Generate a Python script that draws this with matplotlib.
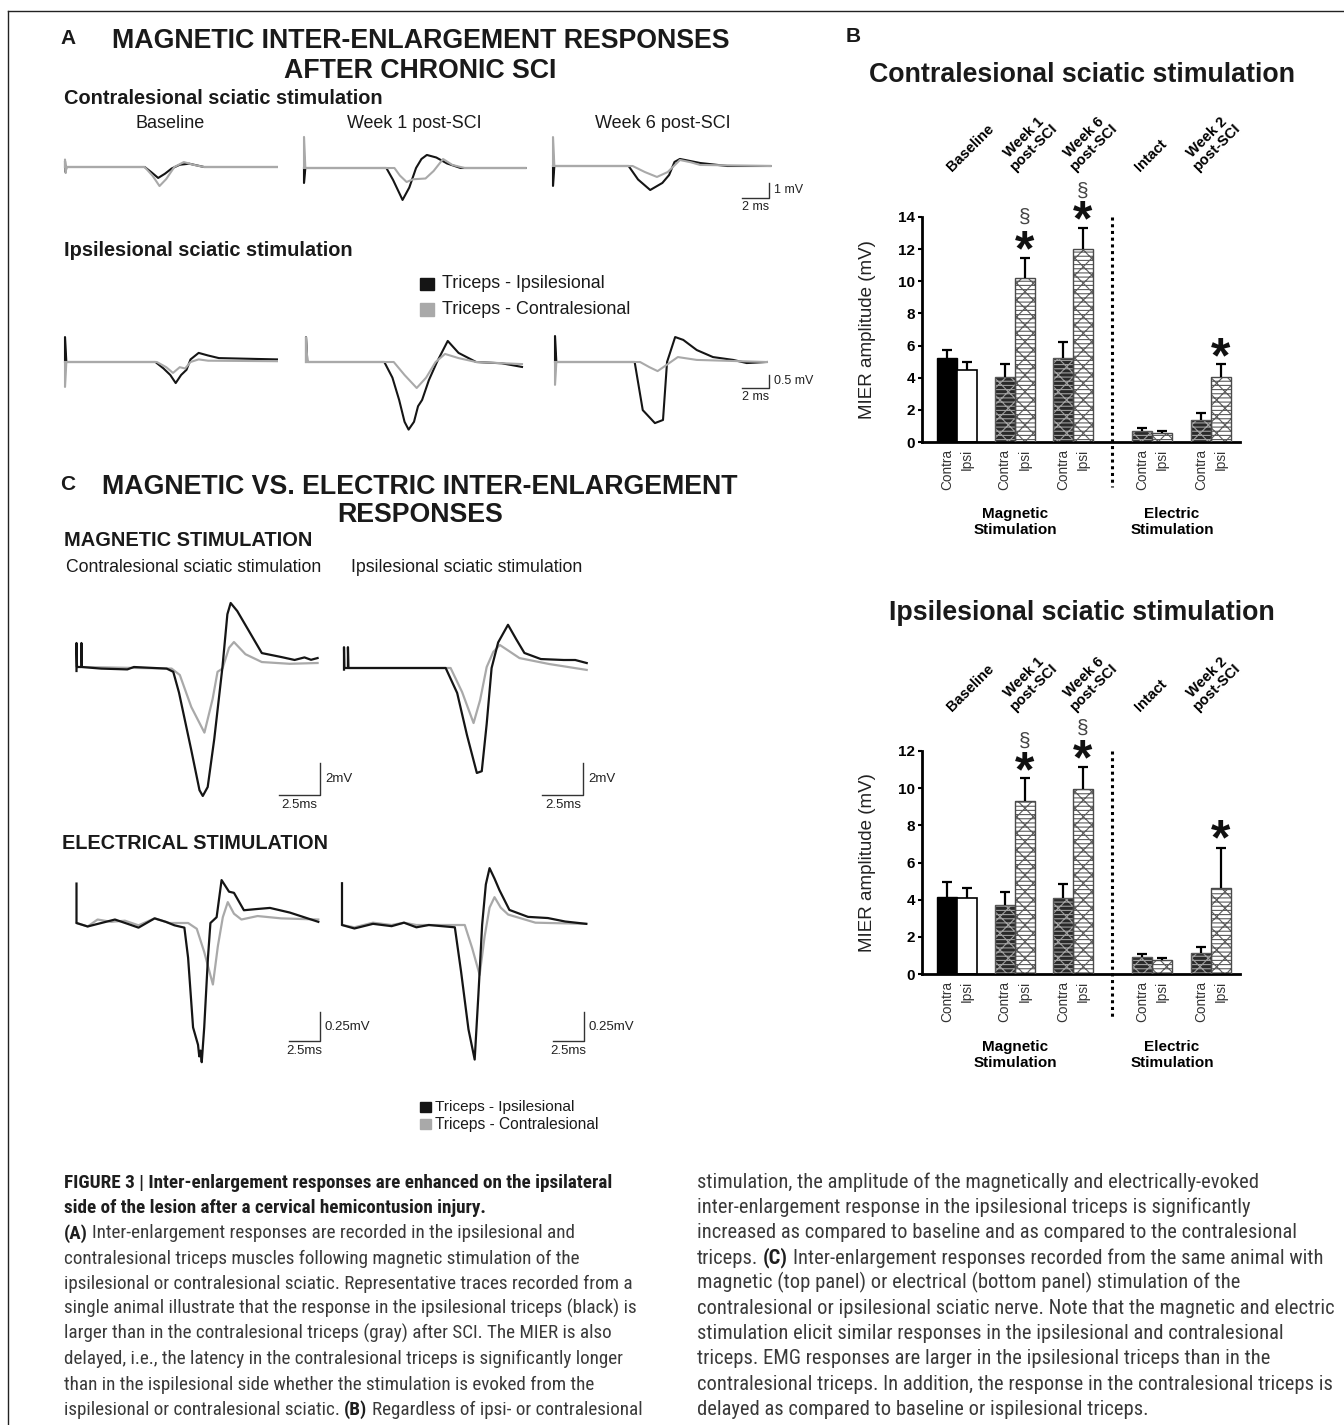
import numpy as np
import matplotlib
matplotlib.use("Agg")
import matplotlib.pyplot as plt
from matplotlib import font_manager as fm
from matplotlib import transforms as mtransforms
from matplotlib.lines import Line2D
from matplotlib.patches import Rectangle

W, H = 1344, 1425
plt.rcParams['font.family'] = ['Liberation Sans', 'DejaVu Sans']
plt.rcParams['hatch.linewidth'] = 0.8
SANS = 'Liberation Sans'

_names = {f.name for f in fm.fontManager.ttflist}
NARROW = None
for cand in ['Liberation Sans Narrow', 'Roboto Condensed', 'Open Sans Condensed',
             'Nimbus Sans Narrow', 'Arial Narrow', 'PT Sans Narrow', 'Archivo Narrow']:
    if cand in _names:
        NARROW = cand
        break
if NARROW is None:
    for f in fm.fontManager.ttflist:
        if 'Condensed' in f.name or 'Narrow' in f.name:
            NARROW = f.name
            break
if NARROW is None:
    NARROW = SANS

# ------------------------------------------------------------------ data (B)
groups = ['Baseline', 'Week 1\npost-SCI', 'Week 6\npost-SCI', 'Intact', 'Week 2\npost-SCI']
bar_labels = ['Contra', 'Ipsi']
# contralesional sciatic stimulation
mier1_contra = [5.2, 4.05, 5.25, 0.70, 1.35]
mier1_contra_err = [0.55, 0.80, 0.95, 0.15, 0.45]
mier1_ipsi = [4.5, 10.2, 12.0, 0.55, 4.05]
mier1_ipsi_err = [0.47, 1.25, 1.30, 0.11, 0.80]
star1_y = [np.nan, 12.4, 14.25, np.nan, 5.75]
sect1_y = [np.nan, 14.0, 15.6, np.nan, np.nan]
# ipsilesional sciatic stimulation
mier2_contra = [4.17, 3.69, 4.11, 0.91, 1.13]
mier2_contra_err = [0.77, 0.71, 0.72, 0.16, 0.32]
mier2_ipsi = [4.11, 9.3, 9.93, 0.73, 4.62]
mier2_ipsi_err = [0.51, 1.25, 1.22, 0.13, 2.18]
star2_y = [np.nan, 11.3, 11.95, np.nan, 7.65]
sect2_y = [np.nan, 12.5, 13.25, np.nan, np.nan]

# ------------------------------------------------------------------ data (A): (ms, mV)
A_con_base_black = [(0, 0), (0, 0.4), (0.05, -0.35), (0.1, 0), (5.9, 0), (6.4, -0.35), (6.9, -0.73), (7.4, -0.45),
                    (7.9, -0.1), (8.5, 0.15), (9.2, 0.22), (9.8, 0.1), (10.3, 0), (15.7, 0)]
A_con_base_gray = [(0, 0), (0, 0.5), (0.05, -0.4), (0.1, 0), (5.9, 0), (6.5, -0.6), (7.0, -1.27), (7.5, -0.8),
                   (8.1, 0), (8.8, 0.33), (9.5, 0.15), (10.3, 0), (15.7, 0)]
A_con_w1_black = [(0, 0), (0, -1.0), (0.1, 0), (6.1, 0), (6.6, -0.8), (7.3, -2.13), (7.8, -1.3), (8.3, 0),
                  (8.7, 0.6), (9.1, 0.87), (9.8, 0.7), (10.6, 0.3), (11.6, 0), (16.4, 0)]
A_con_w1_gray = [(0, 0), (0, 2.07), (0.1, 0), (6.7, 0), (7.1, -0.5), (7.6, -0.93), (8.1, -0.75), (9.0, -0.7),
                 (9.6, -0.2), (10.3, 0.6), (11.0, 0.2), (11.9, 0), (16.4, 0)]
A_con_w6_black = [(0, 0), (0, -1.33), (0.1, 0), (5.6, 0), (6.3, -0.9), (7.2, -1.6), (8.1, -1.13), (8.6, -0.6),
                  (9.0, 0.27), (9.4, 0.47), (10.9, 0.2), (12.9, 0), (16.1, 0)]
A_con_w6_gray = [(0, 0), (0, 1.93), (0.1, 0), (5.9, 0), (6.8, -0.4), (7.7, -0.73), (8.5, -0.4), (9.4, 0.4),
                 (10.2, 0.25), (10.9, 0.07), (16.1, 0)]
A_ips_base_black = [(0, 0), (0, 0.96), (0.1, 0), (6.7, 0), (7.3, -0.25), (7.8, -0.5), (8.2, -0.81), (8.6, -0.5),
                    (9.0, -0.3), (9.3, 0.1), (9.9, 0.35), (10.6, 0.25), (11.4, 0.15), (15.7, 0.1)]
A_ips_base_gray = [(0, 0), (0, -0.96), (0.1, 0), (6.8, 0), (7.5, -0.2), (8.0, -0.42), (8.5, -0.2), (8.9, -0.25),
                   (9.3, 0), (9.9, 0.1), (10.6, 0.05), (15.7, 0.03)]
A_ips_w1_black = [(0, 0), (0, 0.96), (0.1, 0), (5.8, 0), (6.4, -0.6), (6.9, -1.46), (7.3, -2.3), (7.6, -2.6),
                  (8.0, -2.3), (8.3, -1.7), (8.6, -1.46), (9.1, -0.7), (9.7, 0), (10.5, 0.81), (11.3, 0.35),
                  (12.6, 0), (14.5, -0.05), (16.0, -0.19)]
A_ips_w1_gray = [(0, 0), (0, 0.96), (0.1, 0), (6.5, 0), (7.3, -0.5), (8.2, -1.0), (8.9, -0.6), (9.6, 0),
                 (10.3, 0.31), (11.3, 0.15), (12.6, 0), (16.0, -0.08)]
A_ips_w6_black = [(0, 0), (0, 1.0), (0.1, 0), (5.9, 0), (6.5, -1.85), (7.4, -2.35), (8.0, -2.23), (8.3, 0),
                  (8.9, 0.96), (9.5, 0.85), (10.5, 0.46), (11.7, 0.19), (13.2, 0.08), (14.2, -0.04), (15.7, 0)]
A_ips_w6_gray = [(0, 0), (0, -0.88), (0.1, 0), (6.3, 0), (7.0, -0.2), (7.6, -0.35), (8.3, -0.1), (9.1, 0.19),
                 (10.5, 0.08), (15.7, 0)]

# ------------------------------------------------------------------ data (C): (ms, mV)
C_mag_con_black = [(0, -0.25), (0, 1.5), (0.03, 0), (0.3, 0), (0.3, 1.5), (0.33, 0), (1.5, -0.1), (3.1, -0.15),
                   (3.5, 0), (5.5, -0.1), (5.9, -0.3), (6.25, -1.6), (7.0, -5.2), (7.5, -7.7), (7.7, -8.06),
                   (8.0, -7.5), (8.4, -4.5), (8.9, 0), (9.2, 3.3), (9.4, 4.0), (9.8, 3.5), (10.6, 2.1),
                   (11.3, 0.87), (12.5, 0.62), (13.3, 0.44), (13.9, 0.6), (14.3, 0.45), (14.7, 0.56)]
C_mag_con_gray = [(0.3, 0), (5.8, -0.1), (6.3, -0.5), (7.0, -2.5), (7.8, -4.1), (8.3, -2.0), (8.6, -0.3),
                  (8.9, -0.1), (9.3, 1.2), (9.6, 1.56), (10.3, 0.8), (11.3, 0.31), (13.0, 0.2), (14.7, 0.25)]
C_mag_ips_black = [(0, -0.1), (0, 1.3), (0.02, 0), (0.24, 0), (0.24, 1.3), (0.27, 0), (6.2, 0), (6.9, -1.56),
                   (7.5, -4.2), (8.1, -6.56), (8.4, -6.45), (8.7, -3.5), (9.0, 0), (9.4, 1.6), (10.0, 2.7),
                   (10.5, 1.8), (11.0, 0.94), (12.0, 0.56), (13.4, 0.5), (14.1, 0.5), (14.8, 0.31)]
C_mag_ips_gray = [(0.3, 0), (6.5, 0), (7.2, -1.5), (7.9, -3.44), (8.3, -2.0), (8.7, 0.06), (9.1, 1.0),
                  (9.5, 1.44), (10.0, 1.1), (10.7, 0.62), (12.5, 0.25), (14.8, -0.12)]
C_el_con_black = [(0, 0.34), (0, 0), (0.9, -0.03), (2.0, 0.0), (3.1, 0.03), (4.2, -0.01), (5.0, -0.04),
                  (6.3, 0.04), (7.2, 0.01), (7.9, -0.02), (8.7, -0.04), (9.0, -0.3), (9.4, -0.9), (9.8, -1.05),
                  (9.9, -1.15), (10.0, -1.1), (10.1, -1.2), (10.3, -0.9), (10.6, -0.3), (10.8, 0.0),
                  (11.3, 0.05), (11.7, 0.37), (12.3, 0.27), (12.7, 0.26), (13.5, 0.11), (14.5, 0.12),
                  (15.6, 0.13), (17.2, 0.09), (19.5, 0.01)]
C_el_con_gray = [(0, 0), (0.9, -0.03), (1.7, 0.03), (2.8, 0.01), (3.9, 0.02), (5.0, -0.02), (6.3, 0.04),
                 (7.5, 0.0), (9.0, 0.0), (9.7, -0.05), (10.3, -0.25), (11.0, -0.53), (11.4, -0.2), (11.8, 0.05),
                 (12.2, 0.18), (12.7, 0.08), (13.3, 0.03), (14.6, 0.06), (16.5, 0.04), (19.5, 0.03)]
C_el_ips_black = [(0, 0.36), (0, 0), (1.0, -0.03), (2.5, 0.01), (4.0, -0.01), (5.0, 0.02), (6.0, -0.02),
                  (7.0, 0.0), (9.1, -0.02), (9.6, -0.4), (10.2, -0.9), (10.7, -1.16), (11.0, -0.6), (11.3, 0.0),
                  (11.6, 0.35), (11.9, 0.49), (12.3, 0.4), (12.7, 0.3), (13.5, 0.13), (15.0, 0.07),
                  (16.6, 0.06), (18.0, 0.03), (19.7, 0.01)]
C_el_ips_gray = [(0, 0), (1.0, -0.02), (2.5, 0.02), (4.0, 0.0), (5.0, 0.02), (6.0, 0.0), (9.9, 0.0),
                 (10.5, -0.2), (11.1, -0.43), (11.5, -0.1), (11.9, 0.15), (12.3, 0.24), (12.8, 0.15),
                 (13.4, 0.09), (15.6, 0.02), (19.7, 0.01)]

legend_labels = ['Triceps - Ipsilesional', 'Triceps - Contralesional']

caption_left = [
    [("FIGURE 3 | Inter-enlargement responses are enhanced on the ipsilateral", 'bold')],
    [("side of the lesion after a cervical hemicontusion injury.", 'bold')],
    [("(A)", 'bold'), ("Inter-enlargement responses are recorded in the ipsilesional and", 'normal')],
    [("contralesional triceps muscles following magnetic stimulation of the", 'normal')],
    [("ipsilesional or contralesional sciatic. Representative traces recorded from a", 'normal')],
    [("single animal illustrate that the response in the ipsilesional triceps (black) is", 'normal')],
    [("larger than in the contralesional triceps (gray) after SCI. The MIER is also", 'normal')],
    [("delayed, i.e., the latency in the contralesional triceps is significantly longer", 'normal')],
    [("than in the ispilesional side whether the stimulation is evoked from the", 'normal')],
    [("ispilesional or contralesional sciatic.", 'normal'), ("(B)", 'bold'),
     ("Regardless of ipsi- or contralesional", 'normal')],
]
caption_right = [
    [("stimulation, the amplitude of the magnetically and electrically-evoked", 'normal')],
    [("inter-enlargement response in the ipsilesional triceps is significantly", 'normal')],
    [("increased as compared to baseline and as compared to the contralesional", 'normal')],
    [("triceps.", 'normal'), ("(C)", 'bold'), ("Inter-enlargement responses recorded from the same animal with", 'normal')],
    [("magnetic (top panel) or electrical (bottom panel) stimulation of the", 'normal')],
    [("contralesional or ipsilesional sciatic nerve. Note that the magnetic and electric", 'normal')],
    [("stimulation elicit similar responses in the ipsilesional and contralesional", 'normal')],
    [("triceps. EMG responses are larger in the ipsilesional triceps than in the", 'normal')],
    [("contralesional triceps. In addition, the response in the contralesional triceps is", 'normal')],
    [("delayed as compared to baseline or ispilesional triceps.", 'normal')],
]

# ------------------------------------------------------------------ figure
fig = plt.figure(figsize=(W / 100, H / 100), dpi=100)
R = fig.canvas.get_renderer()
BLK = '#151515'
GRY = '#a9a9a9'


def T(x, y, s, size, family=SANS, weight='normal', ha='left', va='center', color='#1a1a1a', fit=None, **kw):
    t = fig.text(x / W, 1 - y / H, s, fontsize=size, family=family, weight=weight, ha=ha, va=va,
                 color=color, **kw)
    if fit:
        w = t.get_window_extent(R).width
        new = size * fit / w
        new = min(max(new, size * 0.6), size * 1.3)
        t.set_fontsize(new)
    return t


# frame
fig.add_artist(Line2D([8 / W, 1], [1 - 11 / H, 1 - 11 / H], transform=fig.transFigure, color='#222', lw=1.0))
fig.add_artist(Line2D([8 / W, 8 / W], [0, 1 - 11 / H], transform=fig.transFigure, color='#222', lw=1.0))

# ------------------------------------------------------------------ panel A / C texts
T(68, 38, 'A', 15, weight='bold', ha='center')
t1 = T(421, 41, 'MAGNETIC INTER-ENLARGEMENT RESPONSES', 18, weight='bold', ha='center', fit=618)
tsz = t1.get_fontsize()
T(420, 71, 'AFTER CHRONIC SCI', tsz, weight='bold', ha='center')
T(64, 98, 'Contralesional sciatic stimulation', 13, weight='bold', fit=318)
T(170, 124, 'Baseline', 11.5, ha='center', fit=69)
T(414, 124, 'Week 1 post-SCI', 11.5, ha='center', fit=135)
T(663, 124, 'Week 6 post-SCI', 11.5, ha='center', fit=136)
T(64, 251, 'Ipsilesional sciatic stimulation', 13, weight='bold', fit=288)

fig.add_artist(Rectangle((420 / W, 1 - 290 / H), 14 / W, 12 / H, transform=fig.transFigure, color=BLK))
fig.add_artist(Rectangle((420 / W, 1 - 316 / H), 14 / W, 13 / H, transform=fig.transFigure, color=GRY))
T(442, 284, legend_labels[0], 12, fit=162)
T(442, 309, legend_labels[1], 12, fit=188)

T(68, 485, 'C', 15, weight='bold', ha='center')
T(420, 487, 'MAGNETIC VS. ELECTRIC INTER-ENLARGEMENT', tsz, weight='bold', ha='center')
T(420, 515, 'RESPONSES', tsz, weight='bold', ha='center')
T(64, 540, 'MAGNETIC STIMULATION', 13, weight='bold', fit=247)
T(66, 567, 'Contralesional sciatic stimulation', 12, fit=257)
T(351, 567, 'Ipsilesional sciatic stimulation', 12, fit=232)
T(62, 843, 'ELECTRICAL STIMULATION', 13, weight='bold', fit=265)

fig.add_artist(Rectangle((420 / W, 1 - 1112 / H), 11 / W, 10 / H, transform=fig.transFigure, color=BLK))
fig.add_artist(Rectangle((420 / W, 1 - 1129 / H), 11 / W, 10 / H, transform=fig.transFigure, color=GRY))
T(435, 1107, legend_labels[0], 10.5, fit=141)
T(435, 1124, legend_labels[1], 10.5, fit=165)


# ------------------------------------------------------------------ traces
def trace_panel(x0, y0, pxms, pxmv, black, gray, lw, black_on_top, sbar=None):
    L, Rr, Tp, Bt = x0 - 30, x0 + 360, y0 - 160, y0 + 160
    ax = fig.add_axes([L / W, 1 - Bt / H, (Rr - L) / W, (Bt - Tp) / H])
    ax.set_xlim((L - x0) / pxms, (Rr - x0) / pxms)
    ax.set_ylim((y0 - Bt) / pxmv, (y0 - Tp) / pxmv)
    ax.axis('off')
    ax.patch.set_visible(False)
    bt, bv = zip(*black)
    gt, gv = zip(*gray)
    zb, zg = (3, 2) if black_on_top else (2, 3)
    ax.plot(bt, bv, color=BLK, lw=lw, zorder=zb, clip_on=False, solid_joinstyle='round')
    ax.plot(gt, gv, color=GRY, lw=lw, zorder=zg, clip_on=False, solid_joinstyle='round')
    if sbar:
        t, v, sx, sy, lx, ly, fs, dy = sbar
        ax.plot([t - sx, t, t], [v, v, v + sy], color='#333', lw=1.0, clip_on=False)
        ax.annotate(ly, xy=(t, v + sy / 2), xytext=(3.5, 0), textcoords='offset points', ha='left',
                    va='center', fontsize=fs, family=SANS, color='#222')
        ax.annotate(lx, xy=(t - sx / 2, v), xytext=(0, dy), textcoords='offset points', ha='center',
                    va='top', fontsize=fs, family=SANS, color='#222')
    return ax


trace_panel(65, 167, 13.5, 15, A_con_base_black, A_con_base_gray, 1.5, False)
trace_panel(304, 168, 13.5, 15, A_con_w1_black, A_con_w1_gray, 1.5, False)
trace_panel(553, 166, 13.5, 15, A_con_w6_black, A_con_w6_gray, 1.5, False,
            (16.0, -2.13, 2, 1, '2 ms', '1 mV', 9, -2))
trace_panel(65, 362, 13.5, 26, A_ips_base_black, A_ips_base_gray, 1.5, False)
trace_panel(306, 362, 13.5, 26, A_ips_w1_black, A_ips_w1_gray, 1.5, False)
trace_panel(555, 362, 13.5, 26, A_ips_w6_black, A_ips_w6_gray, 1.5, False,
            (15.85, -1.0, 2, 0.5, '2 ms', '0.5 mV', 9, -2))

trace_panel(76.5, 667, 16.4, 16, C_mag_con_black, C_mag_con_gray, 1.6, True,
            (14.85, -8.0, 2.5, 2, '2.5ms', '2mV', 9.5, -3))
trace_panel(344, 668, 16.4, 16, C_mag_ips_black, C_mag_ips_gray, 1.6, True,
            (14.6, -7.94, 2.5, 2, '2.5ms', '2mV', 9.5, -3))
trace_panel(76.5, 923, 12.4, 116, C_el_con_black, C_el_con_gray, 1.6, True,
            (19.6, -1.02, 2.5, 0.25, '2.5ms', '0.25mV', 9.5, -3))
trace_panel(342, 925, 12.4, 116, C_el_ips_black, C_el_ips_gray, 1.6, True,
            (19.5, -1.0, 2.5, 0.25, '2.5ms', '0.25mV', 9.5, -3))

# ------------------------------------------------------------------ panel B
T(853, 37, 'B', 15, weight='bold', ha='center')
group_x = np.array([1.75, 4.625, 7.55, 11.5, 14.45])
group_label_x = [1.6, 4.75, 7.75, 11.0, 13.9]
STAR_FS = 36


def bar_chart(top, bottom, ymax, contra, cerr, ipsi, ierr, star_y, sect_y, glabel_y, stim_y, dot_px):
    ax = fig.add_axes([922 / W, 1 - bottom / H, 318 / W, (bottom - top) / H])
    ax.set_xlim(0, 15.9)
    ax.set_ylim(0, ymax)
    ax.patch.set_visible(False)
    xc, xi = group_x - 0.5, group_x + 0.5
    contra = np.asarray(contra)
    ipsi = np.asarray(ipsi)
    # baseline bars
    ax.bar(xc[:1], contra[:1], 1.0, color='black', edgecolor='black', lw=1.0, zorder=2)
    ax.bar(xi[:1], ipsi[:1], 1.0, color='white', edgecolor='black', lw=1.2, zorder=2)
    # hatched bars
    hatch = '//\\\\----'
    ax.bar(xc[1:], contra[1:], 1.0, color='#2a2a2a', edgecolor='#a0a0a0', hatch=hatch, lw=0, zorder=2)
    ax.bar(xc[1:], contra[1:], 1.0, fill=False, edgecolor='#5a5a5a', lw=1.0, zorder=3)
    ax.bar(xi[1:], ipsi[1:], 1.0, color='white', edgecolor='#5c5c5c', hatch=hatch, lw=0, zorder=2)
    ax.bar(xi[1:], ipsi[1:], 1.0, fill=False, edgecolor='#4a4a4a', lw=1.0, zorder=3)
    for xs, ys, es in [(xc, contra, cerr), (xi, ipsi, ierr)]:
        eb = ax.errorbar(xs, ys, yerr=[np.zeros(len(es)), es], fmt='none', ecolor='black', elinewidth=1.6,
                         capsize=3.5, capthick=1.6, zorder=4)
        eb[1][0].set_visible(False)
    for k in range(len(group_x)):
        if not np.isnan(star_y[k]):
            ax.annotate('*', xy=(xi[k], star_y[k]), xytext=(0, -0.45 * STAR_FS), textcoords='offset points',
                        ha='center', va='baseline', fontsize=STAR_FS, fontweight='bold', color='#111',
                        annotation_clip=False)
        if not np.isnan(sect_y[k]):
            ax.annotate('§', xy=(xi[k], sect_y[k]), xytext=(0, 0), textcoords='offset points',
                        ha='center', va='center', fontsize=15, color='#444', annotation_clip=False)
    bt = mtransforms.blended_transform_factory(ax.transData, ax.transAxes)
    ax.plot([9.5, 9.5], [1.0, (bottom - dot_px) / (bottom - top)], transform=bt, ls=(0, (1, 1.2)),
            lw=2.2, color='black', clip_on=False)
    for s in ['top', 'right']:
        ax.spines[s].set_visible(False)
    for s in ['left', 'bottom']:
        ax.spines[s].set_linewidth(2.0)
    pos = np.ravel(np.column_stack([xc, xi]))
    ax.set_xticks(pos)
    ax.set_xticklabels(bar_labels * len(group_x), rotation=90, fontsize=9.8, color='#333')
    ax.tick_params(axis='x', length=0, pad=5)
    ax.set_yticks(np.arange(0, ymax + 1, 2))
    ax.tick_params(axis='y', length=3, width=1.5, pad=2, labelsize=11)
    for lbl in ax.get_yticklabels():
        lbl.set_fontweight('bold')
    ax.set_ylabel('MIER amplitude (mV)', fontsize=13.5, color='#222')
    ax.yaxis.set_label_coords(-0.145, 0.5)
    ft = mtransforms.blended_transform_factory(ax.transData, fig.transFigure)
    for k, g in enumerate(groups):
        ax.text(group_label_x[k], 1 - glabel_y / H, g, rotation=45, rotation_mode='anchor', ha='left',
                va='bottom', multialignment='center', fontsize=10.5, fontweight='bold', transform=ft,
                linespacing=1.0)
    ax.text(4.65, 1 - stim_y / H, 'Magnetic\nStimulation', ha='center', va='center', fontsize=11,
            fontweight='bold', transform=ft, linespacing=1.2)
    ax.text(12.5, 1 - stim_y / H, 'Electric\nStimulation', ha='center', va='center', fontsize=11,
            fontweight='bold', transform=ft, linespacing=1.2)
    return ax


T(1082, 75, 'Contralesional sciatic stimulation', 16.5, weight='bold', ha='center', fit=425)
bar_chart(217, 442, 14, mier1_contra, mier1_contra_err, mier1_ipsi, mier1_ipsi_err, star1_y, sect1_y,
          174, 522, 487)
T(1082, 613, 'Ipsilesional sciatic stimulation', 16.5, weight='bold', ha='center', fit=385)
bar_chart(751, 974, 12, mier2_contra, mier2_contra_err, mier2_ipsi, mier2_ipsi_err, star2_y, sect2_y,
          714, 1055, 1018)


# ------------------------------------------------------------------ caption
def fit_size(s, target, base=12.5):
    t = fig.text(0, 0, s, fontsize=base, family=NARROW)
    w = t.get_window_extent(R).width
    t.remove()
    return min(max(base * target / w, base * 0.6), base * 1.3)


def space_w(size):
    a = fig.text(0, 0, 'a a', fontsize=size, family=NARROW)
    b = fig.text(0, 0, 'aa', fontsize=size, family=NARROW)
    w = a.get_window_extent(R).width - b.get_window_extent(R).width
    a.remove()
    b.remove()
    return w


def draw_caption(x0, y0, lines, size):
    sw = space_w(size)
    for i, runs in enumerate(lines):
        x = x0
        y = y0 + i * 25.2
        for j, (s, wt) in enumerate(runs):
            if j > 0:
                x += sw
            t = fig.text(x / W, 1 - y / H, s, fontsize=size, family=NARROW, weight=wt, ha='left',
                         va='baseline', color='#1e1e1e' if wt == 'bold' else '#3a3a3a')
            x = t.get_window_extent(R).x1


szL = fit_size(caption_left[5][0][0], 578)
szR = fit_size(caption_right[5][0][0], 640)
draw_caption(64, 1188, caption_left, szL)
draw_caption(697, 1188, caption_right, szR)

fig.savefig('out.png', dpi=100)
